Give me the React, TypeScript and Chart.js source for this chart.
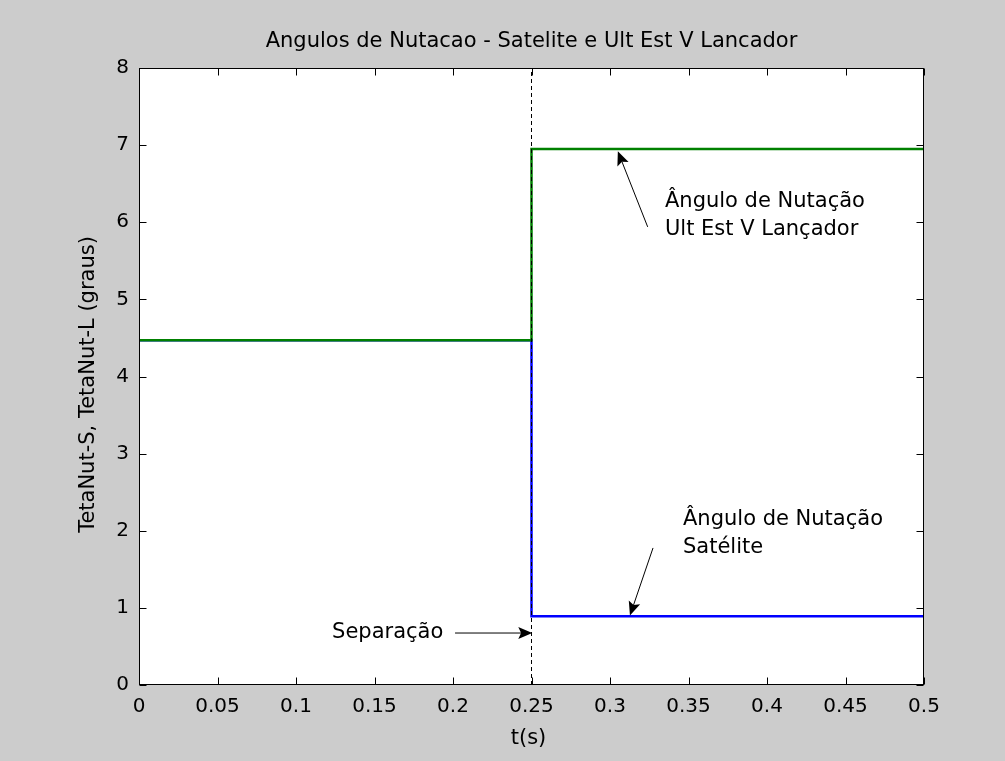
import React, { useEffect, useRef } from 'react';
import { Chart, registerables } from 'chart.js';

Chart.register(...registerables);

// ---- data ----
const timeBreaks = [0, 0.25, 0.25, 0.5];
const launcherAngle = [4.47, 4.47, 6.95, 6.95];
const satelliteAngle = [4.47, 4.47, 0.89, 0.89];
const separationTime = [0.25, 0.25];
const separationRange = [0, 8];

const titleText = 'Angulos de Nutacao - Satelite e Ult Est V Lancador';
const xLabel = 't(s)';
const yLabel = 'TetaNut-S, TetaNut-L (graus)';

const xMin = 0;
const xMax = 0.5;
const xStep = 0.05;
const yMin = 0;
const yMax = 8;
const yStep = 1;

// annotations (data coordinates)
const launcherNoteLines = ['Ângulo de Nutação', 'Ult Est V Lançador'];
const launcherNoteAt = [0.335, 6.27];
const launcherArrow = [0.324, 5.94, 0.305, 6.92];

const satelliteNoteLines = ['Ângulo de Nutação', 'Satélite'];
const satelliteNoteAt = [0.3465, 2.15];
const satelliteArrow = [0.3274, 1.777, 0.3127, 0.9];

const separationNoteLines = ['Separação'];
const separationNoteAt = [0.123, 0.674];
const separationArrow = [0.2013, 0.674, 0.2505, 0.674];

const FONT = '"DejaVu Sans", sans-serif';

const toPoints = (xs: number[], ys: number[]) => xs.map((x, i) => ({ x, y: ys[i] }));

function drawArrow(ctx: CanvasRenderingContext2D, x1: number, y1: number, x2: number, y2: number) {
  const ang = Math.atan2(y2 - y1, x2 - x1);
  const headLen = 14;
  const headW = 6;
  ctx.save();
  ctx.strokeStyle = '#000';
  ctx.fillStyle = '#000';
  ctx.lineWidth = 1;
  ctx.beginPath();
  ctx.moveTo(x1, y1);
  ctx.lineTo(x2 - Math.cos(ang) * headLen * 0.8, y2 - Math.sin(ang) * headLen * 0.8);
  ctx.stroke();
  const bx = x2 - Math.cos(ang) * headLen;
  const by = y2 - Math.sin(ang) * headLen;
  ctx.beginPath();
  ctx.moveTo(x2, y2);
  ctx.lineTo(bx + Math.sin(ang) * headW, by - Math.cos(ang) * headW);
  ctx.lineTo(x2 - Math.cos(ang) * headLen * 0.8, y2 - Math.sin(ang) * headLen * 0.8);
  ctx.lineTo(bx - Math.sin(ang) * headW, by + Math.cos(ang) * headW);
  ctx.closePath();
  ctx.fill();
  ctx.restore();
}

const matlabPlugin = {
  id: 'matlabLook',
  beforeDraw(chart: any) {
    const { ctx, chartArea: a, width, height } = chart;
    ctx.save();
    ctx.fillStyle = '#cccccc';
    ctx.fillRect(0, 0, width, height);
    ctx.fillStyle = '#ffffff';
    ctx.fillRect(a.left, a.top, a.right - a.left, a.bottom - a.top);
    ctx.restore();
  },
  afterDraw(chart: any) {
    const { ctx, chartArea: a } = chart;
    const xs = chart.scales.x;
    const ys = chart.scales.y;
    const L = Math.round(a.left) + 0.5;
    const R = Math.round(a.right) - 0.5;
    const T = Math.round(a.top) + 0.5;
    const B = Math.round(a.bottom) - 0.5;
    ctx.save();
    ctx.strokeStyle = '#000';
    ctx.lineWidth = 1;
    ctx.strokeRect(L, T, R - L, B - T);
    const tl = 7;
    ctx.beginPath();
    xs.ticks.forEach((t: any) => {
      const px = Math.round(xs.getPixelForValue(t.value)) + 0.5;
      ctx.moveTo(px, B);
      ctx.lineTo(px, B - tl);
      ctx.moveTo(px, T);
      ctx.lineTo(px, T + tl);
    });
    ys.ticks.forEach((t: any) => {
      const py = Math.round(ys.getPixelForValue(t.value)) + 0.5;
      ctx.moveTo(L, py);
      ctx.lineTo(L + tl, py);
      ctx.moveTo(R, py);
      ctx.lineTo(R - tl, py);
    });
    ctx.stroke();

    // texts
    ctx.fillStyle = '#000';
    ctx.font = `21px ${FONT}`;
    ctx.textAlign = 'center';
    ctx.textBaseline = 'middle';
    ctx.fillText(titleText, (a.left + a.right) / 2, a.top - 26);
    ctx.fillText(xLabel, (a.left + a.right) / 2 - 3, a.bottom + 54);
    ctx.save();
    ctx.translate(89, (a.top + a.bottom) / 2 + 8);
    ctx.rotate(-Math.PI / 2);
    ctx.fillText(yLabel, 0, 0);
    ctx.restore();

    const note = (lines: string[], at: number[]) => {
      ctx.textAlign = 'left';
      ctx.textBaseline = 'middle';
      const x = xs.getPixelForValue(at[0]);
      const y = ys.getPixelForValue(at[1]);
      lines.forEach((ln, i) => ctx.fillText(ln, x, y + i * 28));
    };
    note(launcherNoteLines, launcherNoteAt);
    note(satelliteNoteLines, satelliteNoteAt);
    note(separationNoteLines, separationNoteAt);

    const arrow = (ar: number[]) =>
      drawArrow(ctx, xs.getPixelForValue(ar[0]), ys.getPixelForValue(ar[1]), xs.getPixelForValue(ar[2]), ys.getPixelForValue(ar[3]));
    arrow(launcherArrow);
    arrow(satelliteArrow);
    arrow(separationArrow);
    ctx.restore();
  },
};

export default function App() {
  const ref = useRef<HTMLCanvasElement | null>(null);
  useEffect(() => {
    if (!ref.current) return;
    const chart = new Chart(ref.current, {
      type: 'scatter',
      data: {
        datasets: [
          {
            label: 'Separação',
            data: toPoints(separationTime, separationRange),
            showLine: true,
            borderColor: '#000000',
            borderWidth: 1,
            borderDash: [4, 3],
            pointRadius: 0,
          },
          {
            label: 'Lançador',
            data: toPoints(timeBreaks, launcherAngle),
            showLine: true,
            borderColor: '#008000',
            borderWidth: 2.5,
            pointRadius: 0,
          },
          {
            label: 'Satélite',
            data: toPoints(timeBreaks, satelliteAngle),
            showLine: true,
            borderColor: '#0000ff',
            borderWidth: 2.5,
            pointRadius: 0,
          },
        ],
      },
      options: {
        responsive: false,
        animation: false,
        events: [],
        layout: { padding: { left: 0, right: 81, top: 68, bottom: 36 } },
        plugins: { legend: { display: false }, title: { display: false }, tooltip: { enabled: false } },
        scales: {
          x: {
            type: 'linear',
            min: xMin,
            max: xMax,
            grid: { display: false },
            border: { display: false },
            ticks: {
              stepSize: xStep,
              color: '#000',
              font: { family: FONT, size: 20 },
              padding: 2,
              maxRotation: 0,
              autoSkip: false,
              callback: (v: any) => String(Number(Number(v).toFixed(2))),
            },
            afterFit: (s: any) => {
              s.height = 40;
            },
          },
          y: {
            type: 'linear',
            min: yMin,
            max: yMax,
            grid: { display: false },
            border: { display: false },
            ticks: {
              stepSize: yStep,
              color: '#000',
              font: { family: FONT, size: 20 },
              padding: 2,
              autoSkip: false,
            },
            afterFit: (s: any) => {
              s.width = 139;
            },
          },
        },
      },
      plugins: [matlabPlugin],
    });
    return () => chart.destroy();
  }, []);
  return (
    <div style={{ position: 'fixed', left: 0, top: 0, width: 1005, height: 761 }}>
      <canvas ref={ref} width={1005} height={761} style={{ width: 1005, height: 761, display: 'block' }} />
    </div>
  );
}
